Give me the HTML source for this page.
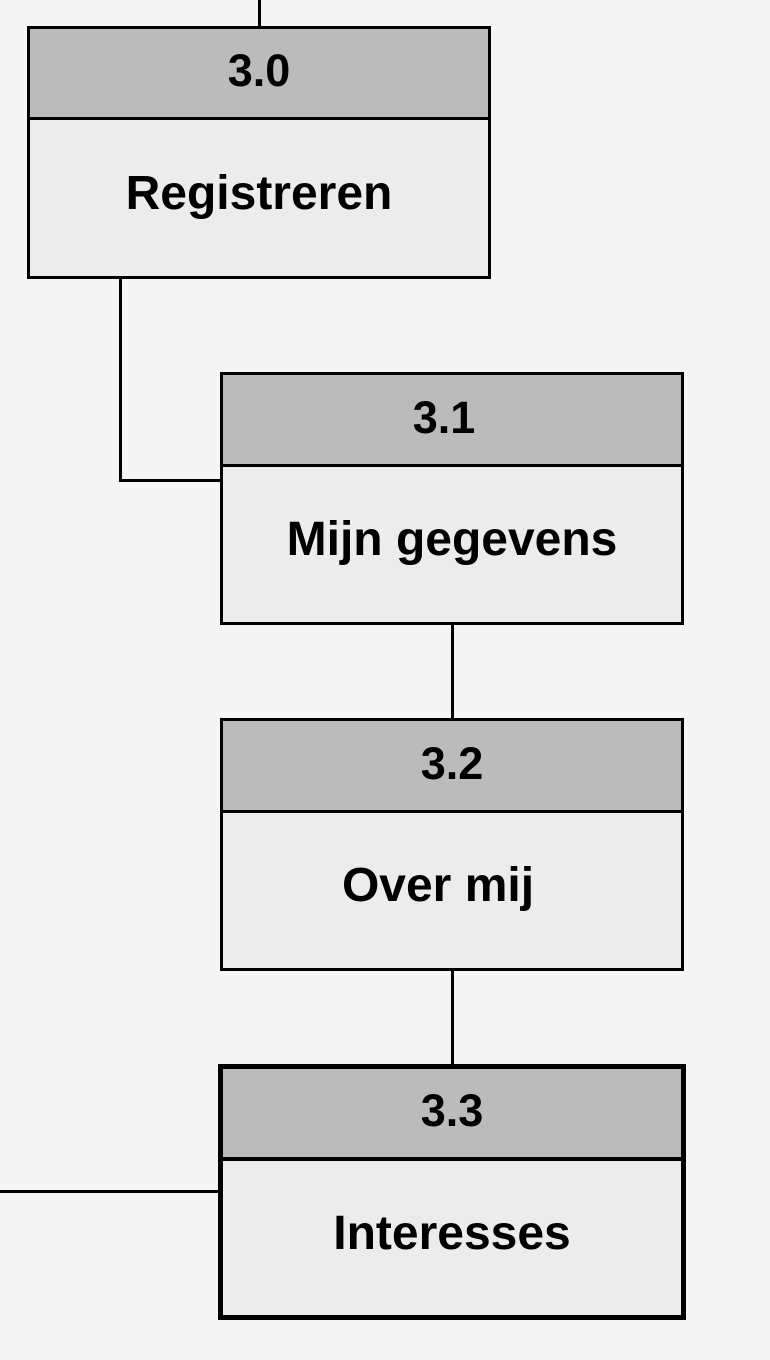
<!DOCTYPE html>
<html><head><style>
body{margin:0;width:770px;height:1360px;background:#f5f5f5;position:relative;overflow:hidden;font-family:"Liberation Sans",Arial,sans-serif;}
.b{position:absolute;box-sizing:border-box;border:3px solid #000;background:#ececec;}
.h{background:#bbb;border-bottom:3px solid #000;box-sizing:border-box;display:flex;align-items:center;justify-content:center;font-weight:bold;font-size:45px;padding-bottom:4px;}
.t{display:flex;align-items:center;justify-content:center;font-weight:bold;font-size:48px;box-sizing:border-box;padding-bottom:10px;}
.l{position:absolute;background:#000;}
</style></head><body>
<div class="l" style="left:258px;top:0;width:3px;height:28px"></div>
<div class="b" style="left:27px;top:26px;width:464px;height:253px">
<div class="h" style="height:91px">3.0</div><div class="t" style="height:156px">Registreren</div></div>
<div class="l" style="left:119px;top:277px;width:3px;height:205px"></div>
<div class="l" style="left:119px;top:479px;width:103px;height:3px"></div>
<div class="b" style="left:220px;top:372px;width:464px;height:253px">
<div class="h" style="height:92px;padding-right:16px">3.1</div><div class="t" style="height:155px">Mijn gegevens</div></div>
<div class="l" style="left:451px;top:624px;width:3px;height:96px"></div>
<div class="b" style="left:220px;top:718px;width:464px;height:253px">
<div class="h" style="height:92px">3.2</div><div class="t" style="height:155px;padding-right:28px">Over mij</div></div>
<div class="l" style="left:451px;top:970px;width:3px;height:97px"></div>
<div class="b" style="left:218px;top:1064px;width:468px;height:256px;border-width:5px">
<div class="h" style="height:92px;border-bottom-width:4px">3.3</div><div class="t" style="height:154px">Interesses</div></div>
<div class="l" style="left:0;top:1190px;width:220px;height:3px"></div>
</body></html>
